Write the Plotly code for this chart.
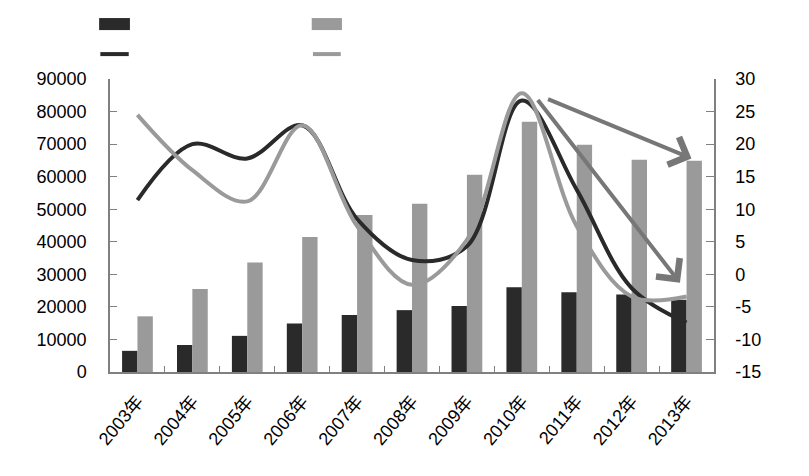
import plotly.graph_objects as go

categories = ["2003年", "2004年", "2005年", "2006年", "2007年", "2008年",
              "2009年", "2010年", "2011年", "2012年", "2013年"]
bar_dark = [6500, 8300, 11100, 14900, 17500, 19000, 20300, 26000, 24500, 23800, 22200]
bar_gray = [17100, 25500, 33600, 41500, 48200, 51700, 60600, 76900, 69800, 65200, 64900]
line_dark = [11.4, 20.0, 17.8, 22.9, 8.5, 2.2, 4.3, 26.7, 13.0, -2.1, -7.4]
line_gray = [24.5, 16.0, 11.2, 22.9, 7.4, -1.6, 5.3, 27.8, 7.4, -3.4, -3.4]
left_ticks = list(range(0, 90001, 10000))
left_labels = [str(v) for v in left_ticks]
right_ticks = list(range(-15, 31, 5))
right_labels = [str(v) for v in right_ticks]

# arrows: (tail index, tail value, tip index, tip value) on the right axis
arrows = [(7.45, 27.0, 10.09, 17.8), (7.27, 27.0, 9.88, -1.3)]

DARK = "#2a2a2a"
GRAY = "#9a9a9a"
FONT = "Liberation Sans, Arial, Noto Sans CJK SC, sans-serif"

fig = go.Figure()
fig.add_trace(go.Bar(x=categories, y=bar_dark, marker=dict(color=DARK, line=dict(width=0)),
                     showlegend=False, name=""))
fig.add_trace(go.Bar(x=categories, y=bar_gray, marker=dict(color=GRAY, line=dict(width=0)),
                     showlegend=False, name=""))
fig.add_trace(go.Scatter(x=categories, y=line_dark, yaxis="y2", mode="lines",
                         line=dict(color=DARK, width=4, shape="spline", smoothing=1.0),
                         showlegend=False, name=""))
fig.add_trace(go.Scatter(x=categories, y=line_gray, yaxis="y2", mode="lines",
                         line=dict(color=GRAY, width=4, shape="spline", smoothing=1.0),
                         showlegend=False, name=""))

annotations = []
for tx, ty, hx, hy in arrows:
    annotations.append(dict(x=hx, y=hy, xref="x", yref="y2", ax=tx, ay=ty,
                            axref="x", ayref="y2", text="", showarrow=True,
                            arrowhead=4, arrowsize=1.45, arrowwidth=4,
                            arrowcolor="#777777", standoff=0))

# legend drawn as swatches (labels are blank in the reference)
shapes = [
    dict(type="rect", xref="paper", yref="paper", x0=-0.018, x1=0.033, y0=1.167, y1=1.208,
         fillcolor=DARK, line=dict(width=0)),
    dict(type="rect", xref="paper", yref="paper", x0=0.334, x1=0.384, y0=1.167, y1=1.208,
         fillcolor=GRAY, line=dict(width=0)),
    dict(type="line", xref="paper", yref="paper", x0=-0.016, x1=0.031, y0=1.085, y1=1.085,
         line=dict(color=DARK, width=4)),
    dict(type="line", xref="paper", yref="paper", x0=0.336, x1=0.382, y0=1.085, y1=1.085,
         line=dict(color=GRAY, width=4)),
]

fig.update_layout(
    width=809, height=476,
    margin=dict(l=102, r=103, t=71, b=112, autoexpand=False),
    paper_bgcolor="white", plot_bgcolor="white",
    barmode="group", bargap=0.44, bargroupgap=0,
    font=dict(family=FONT, color="black", size=18),
    annotations=annotations, shapes=shapes,
    xaxis=dict(type="category", tickson="boundaries", ticks="inside", ticklen=6,
               tickcolor="#808080", showline=True, linecolor="#808080", linewidth=1.5,
               tickangle=-50, tickfont=dict(size=18, family=FONT), showgrid=False,
               ticklabelstandoff=10, automargin=False),
    yaxis=dict(range=[0, 90000], tickvals=left_ticks, ticktext=left_labels,
               ticks="inside", ticklen=7,
               tickcolor="#808080", showline=True, linecolor="#808080", linewidth=1.5,
               showgrid=False, zeroline=False, tickfont=dict(size=18, family=FONT),
               ticklabelstandoff=18, automargin=False),
    yaxis2=dict(range=[-15, 30], tickvals=right_ticks, ticktext=right_labels,
                overlaying="y", side="right",
                ticks="inside", ticklen=8, tickcolor="#808080", showline=True,
                linecolor="#808080", linewidth=1.5, showgrid=False, zeroline=False,
                tickfont=dict(size=18, family=FONT), ticklabelstandoff=16,
                automargin=False),
)

fig.write_html("out.html")
